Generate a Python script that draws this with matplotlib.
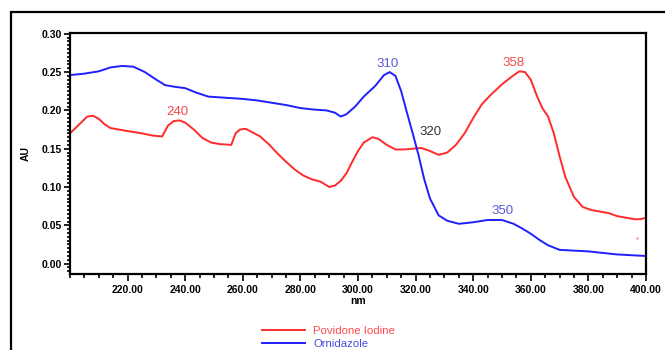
import matplotlib
matplotlib.use("Agg")
import matplotlib.pyplot as plt
from matplotlib.patches import Rectangle
from matplotlib.ticker import MultipleLocator, FormatStrFormatter, FixedLocator

plt.rcParams['font.family'] = ['Liberation Sans', 'DejaVu Sans']

# Ornidazole spectrum (wavelength nm, absorbance AU)
orn_nm = [200, 205, 210, 214, 218, 222, 226, 230, 233, 236, 240, 244, 248, 252,
          256, 260, 265, 270, 275, 280, 285, 289, 292, 294, 296, 299, 302, 306,
          309, 311, 313, 315, 317, 319, 321, 323, 325, 328, 331, 335, 340, 345,
          350, 354, 357, 360, 363, 366, 370, 375, 380, 385, 390, 395, 400]
orn_au = [0.246, 0.248, 0.251, 0.256, 0.258, 0.257, 0.250, 0.240, 0.233, 0.231,
          0.229, 0.223, 0.218, 0.217, 0.216, 0.215, 0.213, 0.210, 0.207, 0.203,
          0.201, 0.200, 0.197, 0.192, 0.195, 0.205, 0.218, 0.232, 0.246, 0.250,
          0.245, 0.225, 0.197, 0.170, 0.142, 0.110, 0.085, 0.063, 0.056, 0.052,
          0.054, 0.057, 0.057, 0.052, 0.046, 0.039, 0.031, 0.024, 0.018, 0.017,
          0.016, 0.014, 0.012, 0.011, 0.010]

# Povidone Iodine spectrum
pvi_nm = [200, 203, 206, 208, 210, 212, 214, 217, 220, 225, 229, 232, 234, 236,
          238, 240, 243, 246, 249, 252, 256, 257.5, 259, 261, 263, 266, 269, 272,
          275, 278, 281, 284, 287, 290, 292, 294, 296, 298, 300, 302, 305, 307,
          310, 313, 316, 319, 322, 325, 328, 331, 334, 337, 340, 343, 346, 350,
          353, 356, 358, 360, 362, 364, 366, 368, 370, 372, 375, 378, 381, 384,
          387, 390, 393, 396, 398, 400]
pvi_au = [0.170, 0.181, 0.192, 0.193, 0.189, 0.182, 0.177, 0.175, 0.173, 0.170,
          0.167, 0.166, 0.180, 0.186, 0.187, 0.184, 0.175, 0.164, 0.158, 0.156,
          0.155, 0.170, 0.175, 0.176, 0.172, 0.166, 0.156, 0.144, 0.133, 0.123,
          0.115, 0.110, 0.107, 0.100, 0.102, 0.108, 0.118, 0.133, 0.147, 0.158,
          0.165, 0.163, 0.155, 0.149, 0.149, 0.150, 0.151, 0.147, 0.142, 0.145,
          0.155, 0.170, 0.190, 0.208, 0.220, 0.234, 0.243, 0.251, 0.250, 0.240,
          0.220, 0.203, 0.192, 0.170, 0.140, 0.113, 0.087, 0.074, 0.070, 0.068,
          0.066, 0.062, 0.060, 0.058, 0.058, 0.060]

# Isolated reading near the end of the scan
stray_nm = [396.8]
stray_au = [0.034]

# Peak annotations: (text, x nm, y AU, colour)
peak_labels = ["240", "310", "320", "358", "350"]
peak_x = [237.2, 310.1, 325.2, 354.1, 350.2]
peak_y = [0.198, 0.260, 0.1715, 0.2616, 0.069]
peak_colors = ["#f04848", "#5a5ad8", "#333333", "#f04848", "#5a5ad8"]

series_names = ["Povidone Iodine", "Ornidazole"]
red = "#ff2a2a"
blue = "#1f1fff"

fig = plt.figure(figsize=(6.65, 3.5), dpi=100)
W, H = 665, 350
ax = fig.add_axes([70 / W, 1 - 274 / H, (646 - 70) / W, (274 - 33) / H])

l1, = ax.plot(pvi_nm, pvi_au, color=red, lw=1.4, label=series_names[0])
l2, = ax.plot(orn_nm, orn_au, color=blue, lw=1.4, label=series_names[1])
ax.plot(stray_nm, stray_au, ls="none", marker="s", ms=1.5, color="#ff8080", mec="none")

for t, x, y, c in zip(peak_labels, peak_x, peak_y, peak_colors):
    ax.text(x, y, t, color=c, fontsize=9.5, ha="center", va="center")

ax.set_xlim(200, 400)
ax.set_ylim(-0.0135, 0.301)

ax.xaxis.set_major_locator(FixedLocator(list(range(220, 401, 20))))
ax.xaxis.set_minor_locator(MultipleLocator(5))
ax.xaxis.set_major_formatter(FormatStrFormatter("%.2f"))
ax.yaxis.set_major_locator(MultipleLocator(0.05))
ax.yaxis.set_minor_locator(MultipleLocator(0.005))
ax.yaxis.set_major_formatter(FormatStrFormatter("%.2f"))

ax.tick_params(axis="both", which="both", direction="out", color="black", width=1.2)
ax.tick_params(axis="x", which="major", length=5, pad=3, labelsize=7.5)
ax.tick_params(axis="x", which="minor", length=3)
ax.tick_params(axis="y", which="major", length=4, pad=1.5, labelsize=7.5)
ax.tick_params(axis="y", which="minor", length=2.5)
for lab in ax.get_xticklabels() + ax.get_yticklabels():
    lab.set_fontweight("bold")

for s in ax.spines.values():
    s.set_linewidth(1.6)

ax.set_xlabel("nm", fontsize=7.5, fontweight="bold", labelpad=1)
ax.set_ylabel("AU", fontsize=7.5, fontweight="bold", labelpad=8)

leg = fig.legend(handles=[l1, l2], loc="upper left",
                 bbox_to_anchor=(262 / W, 1 - 326 / H), frameon=False,
                 fontsize=8.2, handlelength=3.8, handletextpad=0.7,
                 labelspacing=0.3, borderaxespad=0, borderpad=0)
for txt, c in zip(leg.get_texts(), ["#ff4a4a", "#4a4ae0"]):
    txt.set_color(c)

# outer frame around the whole panel
fig.add_artist(Rectangle((11 / W, -0.1), 1.2, 1 - 12 / H + 0.1,
                         transform=fig.transFigure, fill=False,
                         lw=1.6, ec="black", clip_on=False))

fig.savefig("out.png", dpi=100, facecolor="white")
